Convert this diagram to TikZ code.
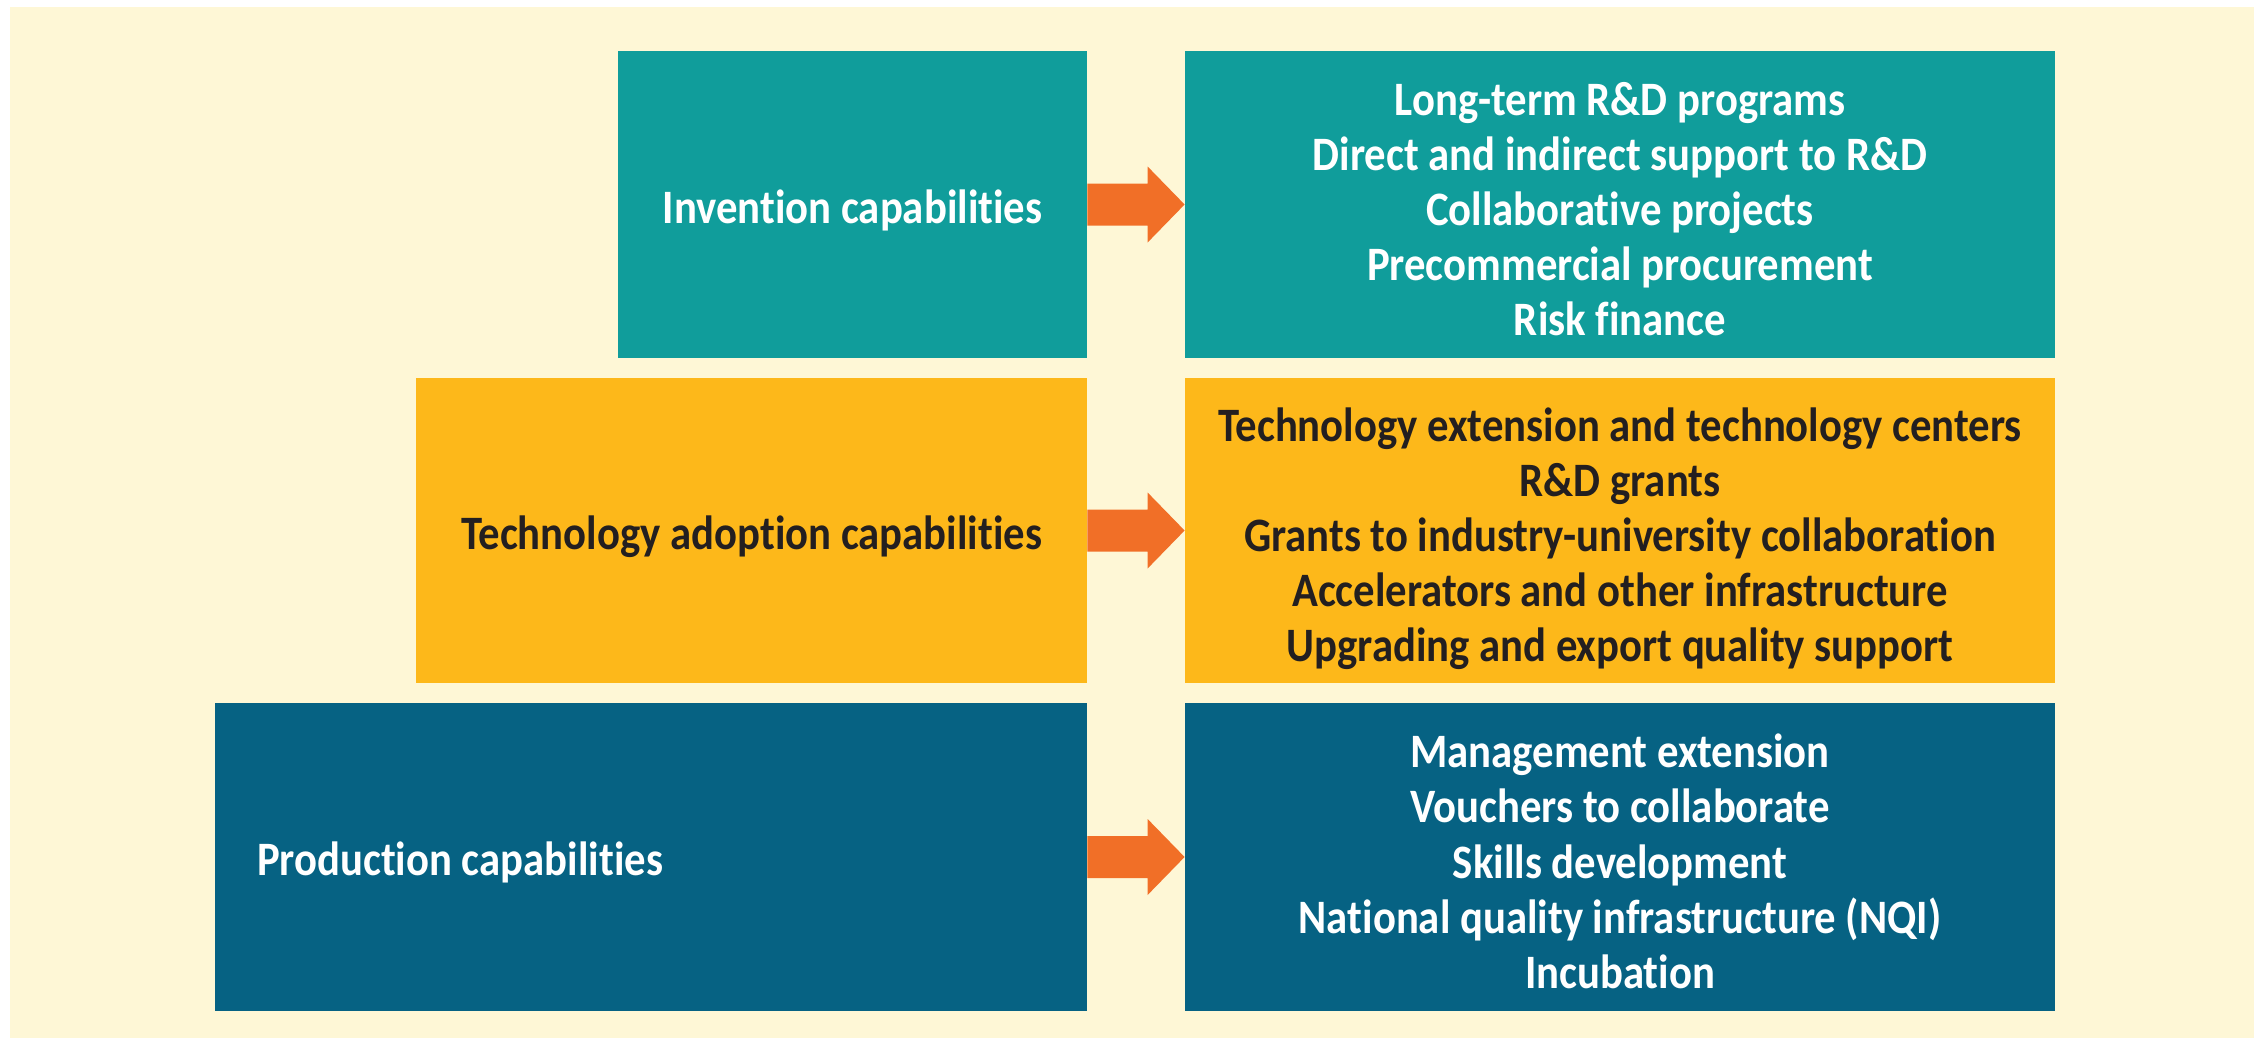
\documentclass[tikz,border=0pt]{standalone}
\usepackage{fontspec}
\setmainfont{Carlito}[FakeStretch=0.89, Ligatures=NoCommon]
\usetikzlibrary{calc}
\definecolor{bgc}{RGB}{254,247,214}
\definecolor{tealc}{RGB}{16,157,155}
\definecolor{yelc}{RGB}{253,184,26}
\definecolor{bluec}{RGB}{6,98,131}
\definecolor{orc}{RGB}{241,111,39}
\definecolor{darktxt}{RGB}{35,31,32}
\tikzset{
  box/.style={rectangle, inner sep=0pt,
    font=\bfseries\fontsize{24}{27.6}\selectfont},
  tealbox/.style={box, fill=tealc, text=white},
  yelbox/.style={box, fill=yelc, text=darktxt},
  bluebox/.style={box, fill=bluec, text=white},
  blockarrow/.style={fill=orc}
}
\newcommand{\mylines}[1]{\raisebox{-5pt}[\height][\depth]{\begin{tabular}{@{}c@{}}#1\end{tabular}}}
\newcommand{\myone}[1]{\raisebox{-2.9pt}[\height][\depth]{#1}}
\newcommand{\blockarr}[2]{%
  \fill[blockarrow] ($(#1.east)+(0,-10.5pt)$) -- ($(#2.west)+(-18.5pt,-10.5pt)$)
    -- ($(#2.west)+(-18.5pt,-19pt)$) -- (#2.west) -- ($(#2.west)+(-18.5pt,19pt)$)
    -- ($(#2.west)+(-18.5pt,10.5pt)$) -- ($(#1.east)+(0,10.5pt)$) -- cycle;}
\begin{document}
\begin{tikzpicture}[x=0.5pt,y=-0.5pt]
\useasboundingbox (0,0) rectangle (2254,1038);
\fill[white] (0,0) rectangle (2254,1038);
\fill[bgc] (10,7) rectangle (2254,1038);

\node[tealbox, minimum width=234.5pt, minimum height=153.5pt] (inv) at (852.5,204.5) {\myone{Invention capabilities}};
\node[tealbox, minimum width=435pt, minimum height=153.5pt] (invR) at (1620,204.5)
  {\mylines{Long-term R\&D programs\\Direct and indirect support to R\&D\\Collaborative projects\\Precommercial procurement\\Risk finance}};

\node[yelbox, minimum width=335.5pt, minimum height=152.5pt] (tech) at (751.5,530.5) {\myone{Technology adoption capabilities}};
\node[yelbox, minimum width=435pt, minimum height=152.5pt] (techR) at (1620,530.5)
  {\mylines{Technology extension and technology centers\\R\&D grants\\Grants to industry-university collaboration\\Accelerators and other infrastructure\\Upgrading and export quality support}};

\node[bluebox, minimum width=436pt, minimum height=154pt] (prod) at (651,857) {\myone{\makebox[394pt][l]{Production capabilities}}};
\node[bluebox, minimum width=435pt, minimum height=154pt] (prodR) at (1620,857)
  {\mylines{Management extension\\Vouchers to collaborate\\Skills development\\National quality infrastructure (NQI)\\Incubation}};

\blockarr{inv}{invR}
\blockarr{tech}{techR}
\blockarr{prod}{prodR}
\end{tikzpicture}
\end{document}
